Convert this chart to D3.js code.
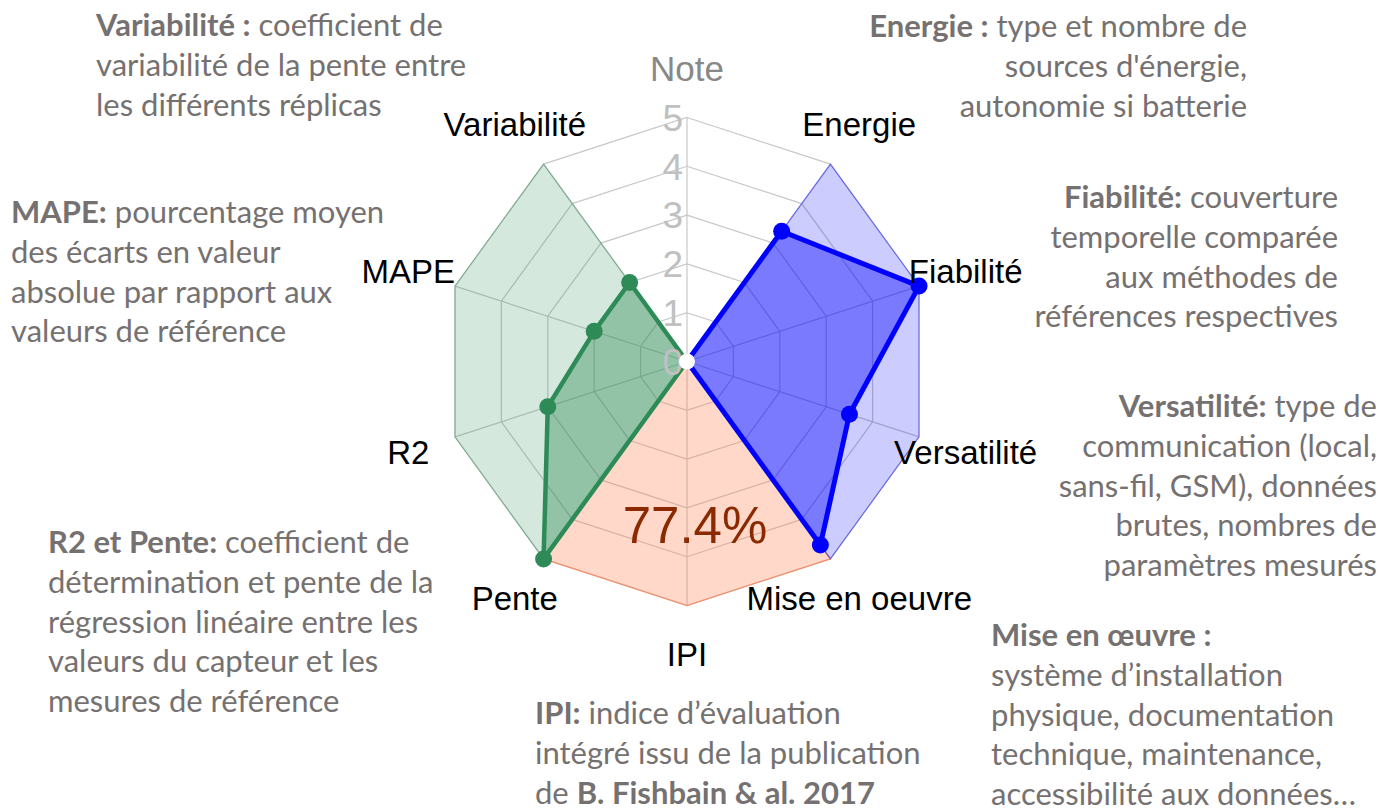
<!DOCTYPE html>
<html>
<head>
<meta charset="utf-8">
<script src="https://cdn.jsdelivr.net/npm/d3@7"></script>
<style>
  body { margin: 0; background: #fff; }
  svg { display: block; }
</style>
</head>
<body>
<svg width="1396" height="812"></svg>
<script>
// axes of the radar, clockwise from the top
const axes = ["Note", "Energie", "Fiabilité", "Versatilité", "Mise en oeuvre", "IPI", "Pente", "R2", "MAPE", "Variabilité"]
const ticks = [0, 1, 2, 3, 4, 5]
const maxNote = 5

// technical criteria (blue)
const techAxes = ["Energie", "Fiabilité", "Versatilité", "Mise en oeuvre"]
const techValues = [3.3, 5, 3.5, 4.65]

// metrological performance (green)
const perfAxes = ["Pente", "R2", "MAPE", "Variabilité"]
const perfValues = [5, 3, 2, 2]

// IPI sector (salmon)
const ipiAxes = ["Mise en oeuvre", "IPI", "Pente"]
const ipiScore = "77.4%"

// side notes, **bold** part first
const notes = [
    ["**Variabilité :** coefficient de", "variabilité de la pente entre", "les différents réplicas"],
    ["**MAPE:** pourcentage moyen", "des écarts en valeur", "absolue par rapport aux", "valeurs de référence"],
    ["**Energie :** type et nombre de", "sources d'énergie,", "autonomie si batterie"],
    ["**Fiabilité:** couverture", "temporelle comparée", "aux méthodes de", "références respectives"],
    ["**Versatilité:** type de", "communication (local,", "sans-fil, GSM), données", "brutes, nombres de", "paramètres mesurés"],
    ["**Mise en œuvre :**", "système d’installation", "physique, documentation", "technique, maintenance,", "accessibilité aux données…"],
    ["**IPI:** indice d’évaluation", "intégré issu de la publication", "de **B. Fishbain & al. 2017**"],
    ["**R2 et Pente:** coefficient de", "détermination et pente de la", "régression linéaire entre les", "valeurs du capteur et les", "mesures de référence"]
]
// where each note sits: anchor, x, first baseline
const notePlaces = [
    ["start", 96, 36], ["start", 11, 223], ["end", 1247, 37], ["end", 1338, 208],
    ["end", 1377, 417], ["start", 991, 646], ["start", 535, 724], ["start", 48, 553]
]

const svg = d3.select("svg")
const cx = 687, cy = 361.5, radius = 244, labelRadius = 293

const angle = d3.scaleBand().domain(axes).range([0, 2 * Math.PI])
const r = d3.scaleLinear().domain([0, maxNote]).range([0, radius])

const radial = d3.lineRadial()
    .angle(d => angle(d.axis))
    .radius(d => r(d.value))
    .curve(d3.curveLinearClosed)

const chart = svg.append("g").attr("transform", `translate(${cx},${cy})`)

// grid rings and spokes
chart.append("g")
    .selectAll("path")
    .data(ticks.filter(t => t > 0))
    .enter().append("path")
    .attr("d", t => radial(axes.map(a => ({axis: a, value: t}))))
    .attr("fill", "none")
    .attr("stroke", "#c8c8c8")
    .attr("stroke-width", 1.2)

chart.append("g")
    .selectAll("line")
    .data(axes)
    .enter().append("line")
    .attr("x2", a => r(maxNote) * Math.sin(angle(a)))
    .attr("y2", a => -r(maxNote) * Math.cos(angle(a)))
    .attr("stroke", "#c8c8c8")
    .attr("stroke-width", 1.2)

function wedge(names, values) {
    let pts = names.map((a, i) => ({axis: a, value: values[i]}))
    return [{axis: names[0], value: 0}].concat(pts)
}

const full = names => names.map(() => maxNote)

// IPI sector
chart.append("path")
    .attr("d", radial(wedge(ipiAxes, full(ipiAxes))))
    .attr("fill", "coral").attr("fill-opacity", 0.3)
    .attr("stroke", "coral").attr("stroke-opacity", 0.7).attr("stroke-width", 1.2)

// max envelopes then scores
const groups = [
    {names: techAxes, values: techValues, color: "#0000ff", width: 5},
    {names: perfAxes, values: perfValues, color: "#2e8b57", width: 4.5}
]

groups.forEach(g => {
    chart.append("path")
        .attr("d", radial(wedge(g.names, full(g.names))))
        .attr("fill", g.color).attr("fill-opacity", 0.2)
        .attr("stroke", g.color).attr("stroke-opacity", 0.4).attr("stroke-width", 1.2)

    chart.append("path")
        .attr("d", radial(wedge(g.names, g.values)))
        .attr("fill", g.color).attr("fill-opacity", 0.4)
        .attr("stroke", g.color).attr("stroke-width", g.width)
        .attr("stroke-linejoin", "round")

    chart.append("g")
        .selectAll("circle")
        .data(g.names.map((a, i) => ({axis: a, value: g.values[i]})))
        .enter().append("circle")
        .attr("cx", d => r(d.value) * Math.sin(angle(d.axis)))
        .attr("cy", d => -r(d.value) * Math.cos(angle(d.axis)))
        .attr("r", 8.5)
        .attr("fill", g.color)
})

// scale numbers on the top axis
chart.append("g")
    .selectAll("text")
    .data(ticks)
    .enter().append("text")
    .attr("x", -4)
    .attr("y", t => -r(t))
    .attr("dy", "0.36em")
    .attr("text-anchor", "end")
    .attr("font-family", "Liberation Sans, Arial, sans-serif")
    .attr("font-size", 37)
    .attr("fill", "#c0c0c0")
    .text(t => t)

chart.append("circle").attr("r", 8).attr("fill", "#fff")

// axis names
chart.append("g")
    .selectAll("text")
    .data(axes)
    .enter().append("text")
    .attr("x", a => labelRadius * Math.sin(angle(a)))
    .attr("y", a => -labelRadius * Math.cos(angle(a)))
    .attr("dy", "0.36em")
    .attr("text-anchor", "middle")
    .attr("font-family", "Liberation Sans, Arial, sans-serif")
    .attr("font-size", a => a == "Note" ? 35 : 33)
    .attr("fill", a => a == "Note" ? "#888" : "#000")
    .text(a => a)

// IPI score
chart.append("text")
    .attr("x", 8)
    .attr("y", 181)
    .attr("text-anchor", "middle")
    .attr("font-family", "Liberation Sans, Arial, sans-serif")
    .attr("font-size", 51)
    .attr("fill", "#8b2a00")
    .text(ipiScore)

// side notes
const noteG = svg.append("g")
    .attr("font-family", "Lato, Calibri, sans-serif")
    .attr("font-size", 31)
    .attr("fill", "#767171")

notes.forEach((lines, i) => {
    let [anchor, x, y] = notePlaces[i]
    lines.forEach((line, j) => {
        let t = noteG.append("text")
            .attr("x", x)
            .attr("y", y + j * 39.8)
            .attr("text-anchor", anchor)
        line.split(/(\*\*[^*]+\*\*)/).filter(s => s.length).forEach(s => {
            let bold = s.startsWith("**")
            t.append("tspan")
                .attr("font-weight", bold ? 700 : 400)
                .text(bold ? s.slice(2, -2) : s)
        })
    })
})
</script>
</body>
</html>
